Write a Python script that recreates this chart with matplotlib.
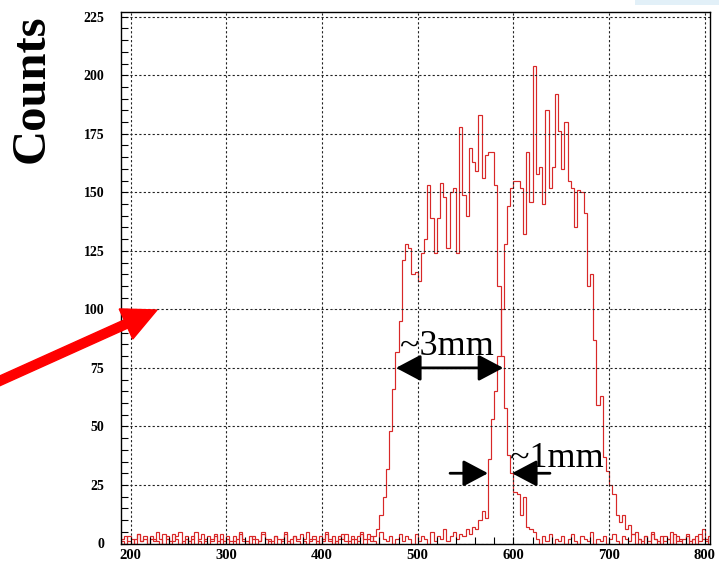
import numpy as np
import matplotlib.pyplot as plt
from matplotlib.patches import FancyArrow, Rectangle

# histogram binning: 10/3 units per bin starting at 190
bin_start = 190.0
bin_width = 10.0 / 3.0

# wide beam (~3mm)
counts_wide = [
    2, 3, 1, 0, 2, 4, 1, 3, 0, 2,
    1, 5, 2, 0, 3, 1, 4, 2, 0, 1,
    3, 0, 2, 5, 1, 0, 2, 3, 1, 4,
    0, 2, 1, 3, 0, 1, 2, 4, 1, 0,
    3, 2, 0, 1, 5, 2, 1, 0, 3, 2,
    1, 4, 0, 2, 3, 1, 0, 2, 5, 1,
    2, 0, 3, 1, 4, 2, 0, 1, 3, 2,
    4, 1, 2, 0, 3, 5, 2, 4, 1, 3,
    6, 12, 20, 32, 48, 66, 82, 95, 121, 128,
    126, 115, 116, 112, 124, 130, 153, 139, 124, 139,
    154, 148, 126, 150, 152, 124, 178, 149, 140, 169,
    163, 159, 183, 156, 166, 167, 167, 153, 110, 80,
    58, 38, 30, 22, 21, 12, 20, 7, 6, 5,
    2, 0, 3, 1, 4, 0, 2, 1, 3, 0,
    2, 4, 1, 0, 3, 2, 1, 5, 0, 2,
    1, 3, 0, 2, 4, 1, 0, 3, 2, 1,
    4, 0, 2, 1, 3, 0, 5, 2, 1, 0,
    3, 2, 0, 4, 1, 2, 0, 3, 1, 2,
    0, 4, 2, 1, 3,
]

# shifted beam
counts_shift = [
    1, 0, 3, 2, 0, 4, 1, 2, 0, 3,
    2, 1, 0, 4, 2, 0, 1, 3, 5, 0,
    2, 1, 3, 0, 2, 4, 1, 0, 2, 3,
    1, 4, 0, 2, 1, 3, 0, 5, 2, 1,
    0, 3, 2, 1, 4, 0, 2, 1, 3, 0,
    2, 5, 1, 0, 3, 2, 4, 1, 0, 2,
    3, 1, 0, 2, 5, 1, 3, 0, 2, 4,
    1, 0, 3, 2, 1, 4, 0, 2, 3, 1,
    0, 5, 2, 1, 3, 0, 2, 4, 1, 3,
    2, 0, 4, 1, 3, 2, 0, 5, 1, 3,
    2, 6, 1, 3, 5, 2, 4, 3, 6, 4,
    7, 6, 10, 14, 11, 36, 53, 65, 80, 100,
    128, 144, 152, 155, 155, 152, 132, 167, 146, 204,
    158, 161, 145, 185, 152, 161, 192, 176, 160, 180,
    155, 152, 135, 151, 150, 141, 110, 115, 87, 59,
    63, 37, 31, 25, 21, 12, 9, 12, 6, 8,
    4, 5, 2, 0, 3, 1, 4, 2, 0, 3,
    1, 2, 5, 0, 3, 1, 2, 4, 0, 2,
    3, 1, 6, 2, 0,
]

x_ticks = [200, 300, 400, 500, 600, 700, 800]
y_ticks = [0, 25, 50, 75, 100, 125, 150, 175, 200, 225]

# width markers: (x_left, x_right, y)
wide_marker = (477.3, 589.4, 75)
narrow_marker = (573.5, 598.5, 30)

edges = bin_start + np.arange(len(counts_wide) + 1) * bin_width

fig = plt.figure(figsize=(7.19, 5.65), dpi=100)
ax = fig.add_axes([121 / 719, 1 - 543.5 / 565, (710 - 121) / 719, (543.5 - 12) / 565])

line_color = '#d82828'
ax.stairs(counts_wide, edges, color=line_color, lw=0.85)
ax.stairs(counts_shift, edges, color=line_color, lw=0.85)

ax.set_xlim(190, 805.4)
ax.set_ylim(0, 227)
ax.set_xticks(x_ticks)
ax.set_yticks(y_ticks)
ax.set_xticks(np.arange(200, 801, 20), minor=True)
ax.set_yticks(np.arange(0, 226, 5), minor=True)

ax.grid(True, which='major', color='#222222', lw=0.8, linestyle=(0, (2, 2)))
ax.tick_params(which='both', direction='in', top=False, right=False, length=5, width=0.8)
ax.tick_params(axis='x', pad=4)
ax.tick_params(axis='y', pad=12)
for sp in ax.spines.values():
    sp.set_linewidth(1.0)

for lab in ax.get_xticklabels():
    lab.set_fontfamily('Liberation Serif')
    lab.set_fontweight('bold')
    lab.set_fontsize(10.5)
for lab in ax.get_yticklabels():
    lab.set_fontfamily('Liberation Serif')
    lab.set_fontweight('bold')
    lab.set_fontsize(10)

fig.text(44 / 719, 1 - 89 / 565, 'Counts', rotation=90, rotation_mode='anchor',
         ha='center', va='baseline', fontsize=35, fontweight='bold',
         family='Liberation Serif')

# black double arrows marking widths
head = dict(arrowstyle='<|-|>,head_length=0.85,head_width=0.45', color='black',
            lw=2, mutation_scale=18, shrinkA=0, shrinkB=0)
ax.annotate('', xy=(wide_marker[0], wide_marker[2]), xytext=(wide_marker[1], wide_marker[2]),
            arrowprops=head)
ax.text(482.0, 80.5, '~3mm', fontsize=26, family='Liberation Serif', ha='left', va='baseline')

single = dict(arrowstyle='-|>,head_length=0.85,head_width=0.45', color='black',
              lw=2, mutation_scale=18, shrinkA=0, shrinkB=0)
ax.annotate('', xy=(narrow_marker[0], narrow_marker[2]), xytext=(533.8, narrow_marker[2]),
            arrowprops=single)
ax.annotate('', xy=(narrow_marker[1], narrow_marker[2]), xytext=(638.2, narrow_marker[2]),
            arrowprops=single)
ax.text(596.0, 32.5, '~1mm', fontsize=26, family='Liberation Serif', ha='left', va='baseline')

# red pointer arrow from the left edge
arrow = FancyArrow(-0.05, (565 - 381) / 100 - 0.02, 1.62, 0.73, width=0.09,
                   head_width=0.33, head_length=0.34, length_includes_head=True,
                   color='#ff0000', transform=fig.dpi_scale_trans)
fig.add_artist(arrow)

fig.add_artist(Rectangle((635 / 719, 1 - 5 / 565), 84 / 719, 5 / 565,
                         transform=fig.transFigure, color='#e2f0f8', lw=0))

fig.savefig('out.png', dpi=100)
